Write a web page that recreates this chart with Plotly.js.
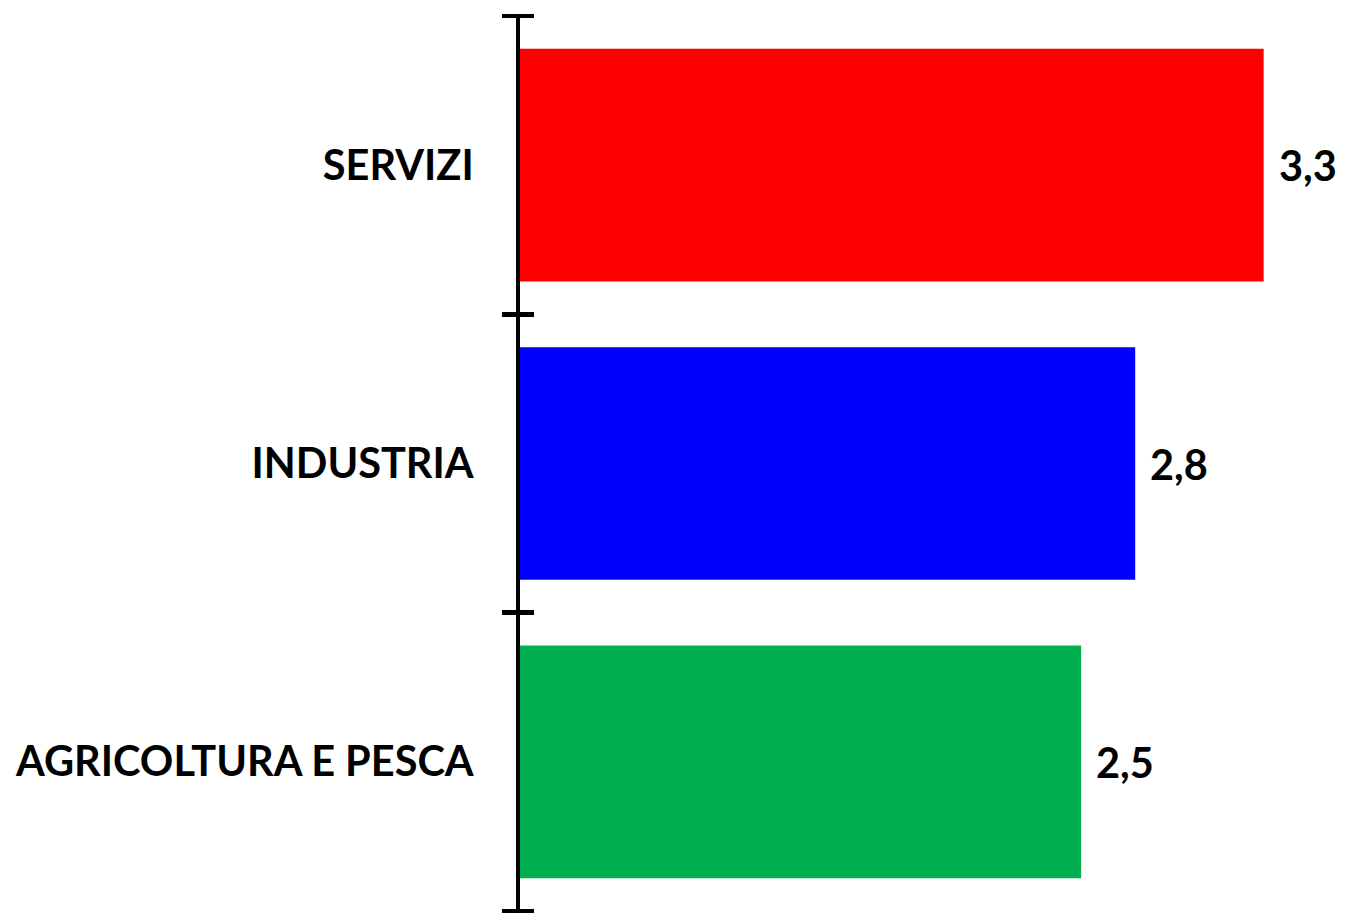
<!DOCTYPE html>
<html>
<head>
<meta charset="utf-8">
<script src="https://cdn.plot.ly/plotly-3.0.1.min.js"></script>
<style>html,body{margin:0;padding:0;background:#fff;}#chart{width:1347px;height:913px;}</style>
</head>
<body>
<div id="chart"></div>
<script>
// Data (bottom to top)
const categories = ["AGRICOLTURA E PESCA", "INDUSTRIA", "SERVIZI"];
const values = [2.49, 2.73, 3.3];
const valueLabels = ["2,5", "2,8", "3,3"];
const barColors = ["#00B050", "#0000FF", "#FF0000"];

const labelFont = {family: "Lato, 'Open Sans', sans-serif", size: 41.5, weight: "bold", color: "#000000"};

const traces = [
  {
    type: "bar",
    orientation: "h",
    x: values,
    y: categories,
    marker: {color: barColors, line: {width: 0}},
    hoverinfo: "skip",
    showlegend: false
  },
  {
    type: "scatter",
    mode: "markers",
    x: values,
    y: categories,
    yaxis: "y2",
    marker: {size: 1, opacity: 0},
    hoverinfo: "skip",
    showlegend: false
  }
];

const annotations = categories.map((c, i) => ({
  x: values[i],
  y: c,
  xref: "x",
  yref: "y",
  text: valueLabels[i],
  showarrow: false,
  xanchor: "left",
  yanchor: "middle",
  xshift: 13,
  font: labelFont
}));

const yCommon = {
  type: "category",
  categoryorder: "array",
  categoryarray: categories,
  range: [-0.5, 2.5],
  showgrid: false,
  zeroline: false,
  fixedrange: true
};

const layout = {
  width: 1347,
  height: 913,
  margin: {l: 520, r: 27, t: 16, b: 2},
  paper_bgcolor: "#ffffff",
  plot_bgcolor: "#ffffff",
  bargap: 0.22,
  showlegend: false,
  xaxis: {range: [0, 3.55], visible: false, fixedrange: true},
  yaxis: Object.assign({}, yCommon, {
    ticks: "",
    showline: true,
    linewidth: 4,
    linecolor: "#000000",
    showticklabels: true,
    ticklabelstandoff: 34,
    tickfont: labelFont
  }),
  yaxis2: Object.assign({}, yCommon, {
    overlaying: "y",
    anchor: "free",
    position: 0.0175,
    side: "left",
    tickson: "boundaries",
    ticks: "outside",
    ticklen: 32,
    tickwidth: 4.5,
    tickcolor: "#000000",
    showline: false,
    showticklabels: false
  }),
  annotations: annotations
};

Plotly.newPlot("chart", traces, layout, {displayModeBar: false, staticPlot: true});
</script>
</body>
</html>
